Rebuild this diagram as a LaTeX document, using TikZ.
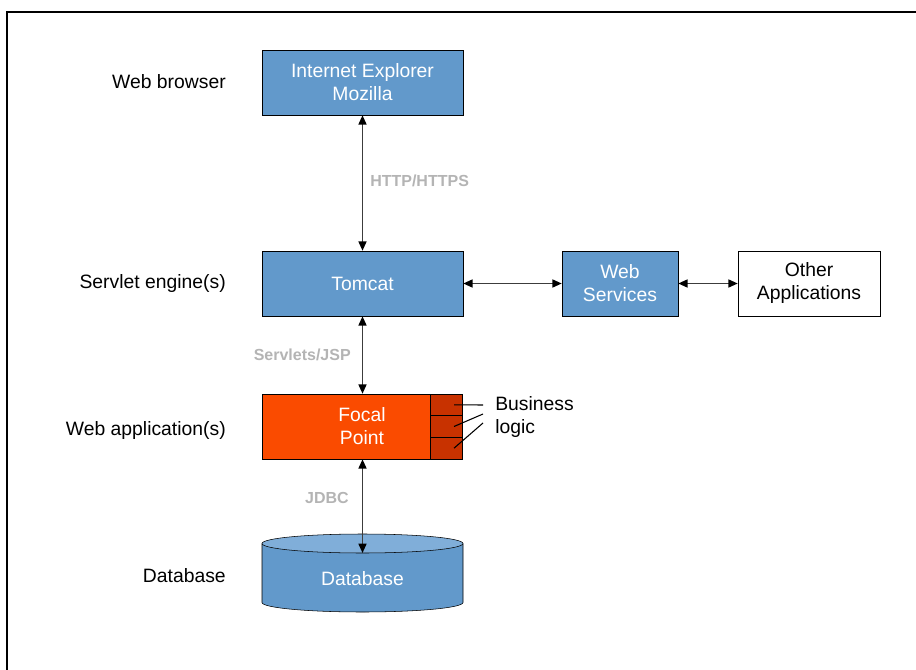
\documentclass[tikz,border=0pt]{standalone}
\usepackage{fontspec}
\setmainfont{Liberation Sans}
\usetikzlibrary{arrows.meta}
\definecolor{tierblue}{RGB}{98,153,203}
\definecolor{toplight}{RGB}{128,174,217}
\definecolor{focalred}{RGB}{250,75,0}
\definecolor{logicred}{RGB}{200,50,0}
\definecolor{protogray}{RGB}{180,180,180}
\definecolor{linkgray}{RGB}{60,60,60}

\begin{document}
\begin{tikzpicture}[x=0.75pt,y=0.75pt,
 tier/.style={rectangle,draw=black,fill=tierblue,text=white,align=center,minimum height=48.75pt,font=\fontsize{14.5}{17.25}\selectfont},
 layer/.style={anchor=east,inner sep=0pt,font=\fontsize{14.5}{17.25}\selectfont},
 proto/.style={inner sep=0pt,text=protogray,font=\fontsize{12}{14}\selectfont\bfseries},
 link/.style={linkgray,line width=1.2pt,{Triangle[length=7pt,width=6pt,black]}-{Triangle[length=7pt,width=6pt,black]}},
 cell/.style={rectangle,draw=black,fill=logicred,minimum width=24pt,minimum height=16.25pt}]
\useasboundingbox (0,0) rectangle (916,-670);
\draw[line width=1.5pt] (7,-670) -- (7,-12) -- (916,-12);

 % tiers
 \node[tier,minimum width=150.75pt] (browser) at (362.5,-82.5) {Internet Explorer\\Mozilla};
 \node[tier,minimum width=150.75pt] (tomcat) at (362.5,-283.5) {Tomcat};
 \node[tier,minimum width=87pt] (ws) at (620,-283.5) {Web\\Services};
 \node[tier,minimum width=106.5pt,fill=white,text=black] (other) at (809,-283.5) {Other\\Applications};
 \node[tier,minimum width=150pt,fill=focalred] (focal) at (362,-426.5) {Focal\\Point};
 \node[cell] (cell1) at (446,-404.8) {};
 \node[cell] (cell2) at (446,-426.5) {};
 \node[cell] (cell3) at (446,-448.2) {};

 % database
 \fill[tierblue] (262,-543.5) -- (262,-602.5) arc[start angle=180,end angle=360,x radius=100.5,y radius=9.5] -- (463,-543.5) -- cycle;
 \draw (262,-543.5) -- (262,-602.5) arc[start angle=180,end angle=360,x radius=100.5,y radius=9.5] -- (463,-543.5);
 \filldraw[fill=toplight] (362.5,-543.5) ellipse[x radius=100.5,y radius=9.5];
 \node[text=white,font=\fontsize{14.5}{17.25}\selectfont] (db) at (362.5,-579) {Database};
 \coordinate (dbtop) at (362.5,-553);

 % layer names
 \node[layer] (lbrowser) at (226,-82) {Web browser};
 \node[layer] (lservlet) at (226,-284) {Servlet engine(s)};
 \node[layer] (lwebapp) at (226,-430) {Web application(s)};
 \node[layer] (ldb) at (226,-576) {Database};

 % protocols
 \node[proto,anchor=west] (http) at (370,-181) {HTTP/HTTPS};
 \node[proto,anchor=east] (jsp) at (351,-355) {Servlets/JSP};
 \node[proto,anchor=east] (jdbc) at (349,-498) {JDBC};

 \draw[link] (browser) -- (tomcat);
 \draw[link] (tomcat) -- (focal.north -| tomcat);
 \draw[link] (focal.south -| tomcat) -- (dbtop);
 \draw[link] (tomcat) -- (ws);
 \draw[link] (ws) -- (other);

 % business logic
 \node[anchor=west,inner sep=0pt,align=left,font=\fontsize{14.5}{17.25}\selectfont] (logic) at (495,-416.5) {Business\\logic};
 \coordinate (bl1) at (483,-405);
 \coordinate (bl2) at (483,-414);
 \coordinate (bl3) at (483,-423);
 \draw[black,line width=0.8pt] ([xshift=6pt]cell1.center) -- (bl1);
 \draw[black,line width=0.8pt] ([xshift=6pt]cell2.center) -- (bl2);
 \draw[black,line width=0.8pt] ([xshift=6pt]cell3.center) -- (bl3);
\end{tikzpicture}
\end{document}
